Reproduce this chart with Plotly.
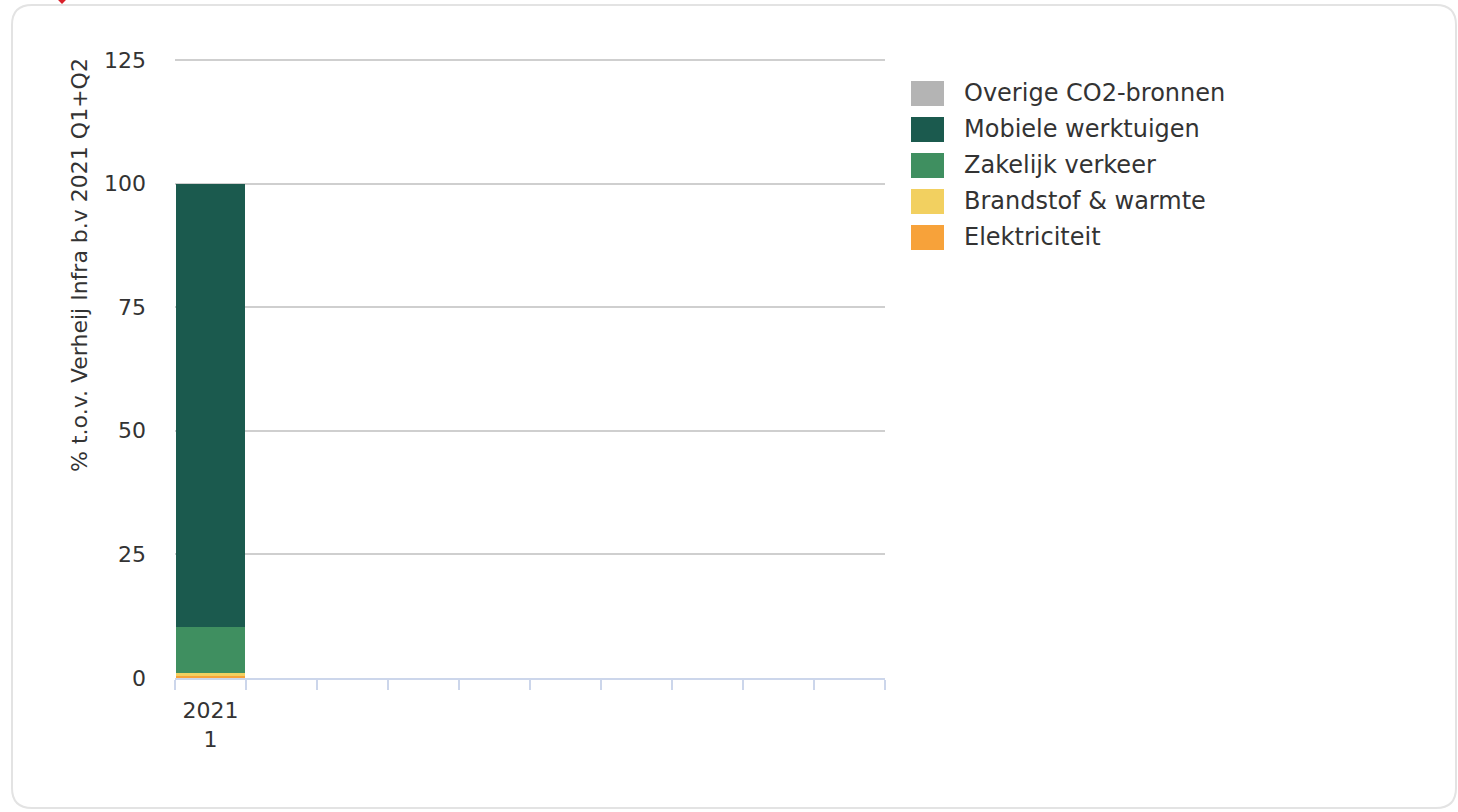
import plotly.graph_objects as go

# ---- data ----
categories = ["2021<br>1", " ", "  ", "   ", "    ", "     ", "      ", "       ", "        ", "         "]
series_names = ["Elektriciteit", "Brandstof & warmte", "Zakelijk verkeer", "Mobiele werktuigen", "Overige CO2-bronnen"]
elektriciteit = [0.6] + [None] * 9
brandstof = [0.35] + [None] * 9
zakelijk = [9.35] + [None] * 9
mobiele = [89.7] + [None] * 9
overige = [0.0] + [None] * 9
series_values = [elektriciteit, brandstof, zakelijk, mobiele, overige]
colors = ["#f7a23a", "#f2d060", "#3f8f60", "#1b5a4e", "#b4b4b4"]
y_ticks = [0, 25, 50, 75, 100, 125]
y_title = "% t.o.v. Verheij Infra b.v 2021 Q1+Q2"

# ---- layout geometry (pixels) ----
FW, FH = 1458, 812
Y_MAX, Y_TOP = 126, 125
L, R, B = 175, 885, 678
H = (B - 60) * Y_MAX / Y_TOP   # so that 125 lands at y=60 px
T = B - H
W = R - L


def px(x):
    return (x - L) / W


def py(y):
    return (B - y) / H


FONT = "DejaVu Sans"
TXT = "#333333"

fig = go.Figure()
for name, vals, col in zip(series_names, series_values, colors):
    fig.add_trace(go.Bar(x=categories, y=vals, name=name, marker=dict(color=col, line=dict(width=0)),
                         showlegend=False))

shapes = []
# outer rounded border
x0, x1, y0, y1, r = 12, 1456, 5, 808, 20
pts = [
    ("M", [(x0 + r, y0)]), ("L", [(x1 - r, y0)]), ("Q", [(x1, y0), (x1, y0 + r)]),
    ("L", [(x1, y1 - r)]), ("Q", [(x1, y1), (x1 - r, y1)]), ("L", [(x0 + r, y1)]),
    ("Q", [(x0, y1), (x0, y1 - r)]), ("L", [(x0, y0 + r)]), ("Q", [(x0, y0), (x0 + r, y0)]),
]
path = ""
for cmd, ps in pts:
    path += cmd + " ".join(f"{px(a):.5f},{py(b):.5f}" for a, b in ps) + " "
path += "Z"
shapes.append(dict(type="path", xref="paper", yref="paper", path=path,
                   line=dict(color="#e3e3e3", width=2), fillcolor="rgba(0,0,0,0)", layer="below"))
# small red marker at top-left
shapes.append(dict(type="path", xref="paper", yref="paper",
                   path=f"M{px(55)},{py(-3)} L{px(62)},{py(4)} L{px(69)},{py(-3)} Z",
                   line=dict(width=0), fillcolor="#d9202a"))

# manual legend (top to bottom: reversed stacking order)
annotations = []
leg_order = list(zip(series_names, colors))[::-1]
for i, (name, col) in enumerate(leg_order):
    top = 81 + i * 36
    shapes.append(dict(type="rect", xref="paper", yref="paper",
                       x0=px(911), x1=px(944), y0=py(top), y1=py(top + 25),
                       line=dict(width=0), fillcolor=col))
    annotations.append(dict(xref="paper", yref="paper", x=px(962), y=py(top + 12.5),
                            xanchor="left", yanchor="middle", text=name, showarrow=False,
                            font=dict(family=FONT, size=24, color=TXT)))

# y-axis title, aligned to the top of the axis
annotations.append(dict(xref="paper", yref="paper", x=px(80), y=py(56), xanchor="center", yanchor="top",
                        text=y_title, textangle=-90, showarrow=False,
                        font=dict(family=FONT, size=22, color=TXT)))

fig.update_layout(
    width=FW, height=FH,
    margin=dict(l=L, r=FW - R, t=T, b=FH - B, pad=0),
    paper_bgcolor="white", plot_bgcolor="white",
    barmode="stack", bargap=0.03,
    font=dict(family=FONT, color=TXT, size=22),
    shapes=shapes, annotations=annotations,
    showlegend=False,
    xaxis=dict(type="category", categoryorder="array", categoryarray=categories,
               range=[-0.5, len(categories) - 0.5],
               tickson="boundaries", ticks="outside", ticklen=10, tickwidth=2, tickcolor="#ccd6eb",
               showline=True, linecolor="#ccd6eb", linewidth=2, tickangle=0,
               showgrid=False, tickfont=dict(size=22, color=TXT, family=FONT),
               ticklabelstandoff=12),
    yaxis=dict(range=[0, Y_MAX], tickvals=y_ticks, ticks="", showline=False, zeroline=False,
               showgrid=True, gridcolor="#cfcfcf", gridwidth=1.5,
               tickfont=dict(size=22, color=TXT, family=FONT), ticklabelstandoff=28),
)

fig.write_html("out.html", config={"displayModeBar": False},
               post_script="document.body.style.margin='0';document.body.style.overflow='hidden';")
